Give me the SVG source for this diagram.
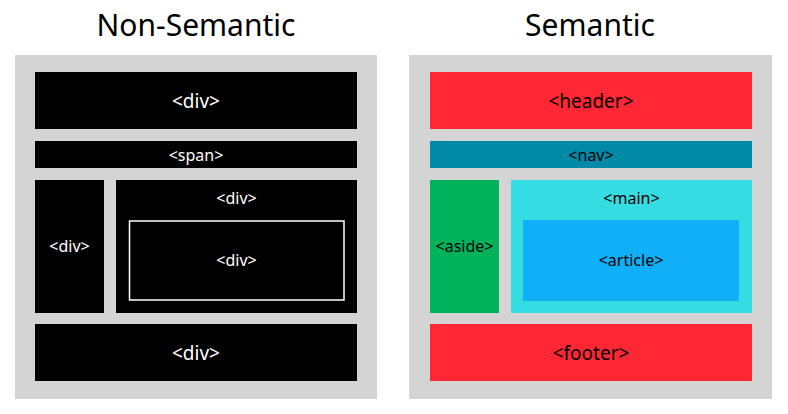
<svg xmlns="http://www.w3.org/2000/svg" width="788" height="414" viewBox="0 0 788 414">
<style>
text{font-family:"Noto Sans","Noto Sans CJK KR","DejaVu Sans",sans-serif;text-anchor:middle;dominant-baseline:central}
.title{font-size:30px;fill:#000}
.w{fill:#fff}
.k{fill:#000}
.l{font-size:19px}
.s{font-size:16px}
.panel{fill:#d4d4d4}
.blk{fill:#000}
</style>
<rect width="788" height="414" fill="#fff"/>
<g id="title-nonsemantic"><text class="title" x="196" y="24">Non-Semantic</text></g>
<g id="title-semantic"><text class="title" x="590" y="24">Semantic</text></g>
<g id="panel-left"><rect class="panel" x="15" y="55" width="362" height="344"/></g>
<g id="panel-right"><rect class="panel" x="409" y="55" width="363" height="344"/></g>
<g id="ns-div-top"><rect class="blk" x="35" y="72" width="322" height="57"/><text class="w l" x="196" y="100.5">&lt;div&gt;</text></g>
<g id="ns-span"><rect class="blk" x="35" y="141" width="322" height="27"/><text class="w s" x="196" y="154.5">&lt;span&gt;</text></g>
<g id="ns-div-left"><rect class="blk" x="35" y="180" width="69" height="133"/><text class="w s" x="69.5" y="246">&lt;div&gt;</text></g>
<g id="ns-div-right"><rect class="blk" x="116" y="180" width="241" height="133"/><text class="w s" x="236.5" y="198">&lt;div&gt;</text></g>
<g id="ns-div-inner"><rect x="129.5" y="221" width="214.5" height="79" fill="none" stroke="#fff" stroke-width="1.5"/><text class="w s" x="236.5" y="260">&lt;div&gt;</text></g>
<g id="ns-div-bottom"><rect class="blk" x="35" y="324" width="322" height="57"/><text class="w l" x="196" y="352.5">&lt;div&gt;</text></g>
<g id="header"><rect x="430" y="72" width="322" height="57" fill="#ff2733"/><text class="k l" x="591" y="100.5">&lt;header&gt;</text></g>
<g id="nav"><rect x="430" y="141" width="322" height="27" fill="#008aa8"/><text class="k s" x="591" y="154.5">&lt;nav&gt;</text></g>
<g id="aside"><rect x="430" y="180" width="69" height="133" fill="#00b35a"/><text class="k s" x="464.5" y="246">&lt;aside&gt;</text></g>
<g id="main"><rect x="511" y="180" width="241" height="133" fill="#35dde3"/><text class="k s" x="631.5" y="198">&lt;main&gt;</text></g>
<g id="article"><rect x="523" y="220" width="216" height="81" fill="#10aff8"/><text class="k s" x="631" y="260">&lt;article&gt;</text></g>
<g id="footer"><rect x="430" y="324" width="322" height="57" fill="#ff2733"/><text class="k l" x="591" y="352.5">&lt;footer&gt;</text></g>
<g id="connectors"/>
</svg>
